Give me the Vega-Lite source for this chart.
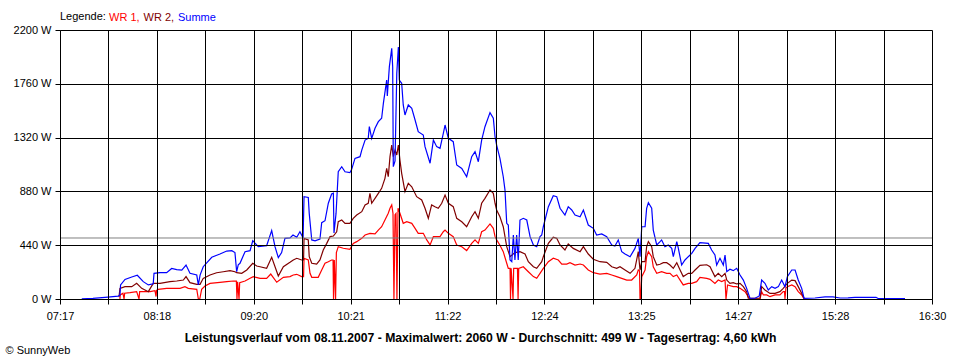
{
"$schema": "https://vega.github.io/schema/vega-lite/v6.json",
"width": 872, "height": 269,
"autosize": {"type": "none"},
"padding": {"left": 60, "top": 30, "right": 28, "bottom": 61},
"background": "white",
"config": {"font": "Liberation Sans", "view": {"stroke": null}},
"datasets": {
"wr1": [
{"t":475.2,"w":0},{"t":475.4,"w":33},{"t":477.1,"w":47},{"t":477.8,"w":0},{"t":478.2,"w":47},{"t":481.6,"w":52},{"t":485.8,"w":60},{"t":487.3,"w":0},{"t":487.7,"w":60},{"t":489.0,"w":60},{"t":494.3,"w":60},{"t":497.4,"w":68},{"t":498.1,"w":20},{"t":498.4,"w":70},{"t":499.5,"w":79},{"t":504.8,"w":87},{"t":513.3,"w":87},{"t":516.4,"w":101},{"t":518.5,"w":87},{"t":523.9,"w":79},{"t":524.9,"w":0},{"t":525.8,"w":0},{"t":527.0,"w":79},{"t":529.1,"w":106},{"t":532.3,"w":128},{"t":538.6,"w":136},{"t":542.9,"w":142},{"t":547.1,"w":147},{"t":549.0,"w":147},{"t":549.4,"w":0},{"t":549.8,"w":140},{"t":550.7,"w":0},{"t":551.1,"w":134},{"t":554.5,"w":147},{"t":557.7,"w":169},{"t":559.7,"w":183},{"t":564.0,"w":169},{"t":568.2,"w":169},{"t":570.8,"w":204},{"t":574.6,"w":137},{"t":578.8,"w":177},{"t":583.0,"w":183},{"t":585.1,"w":196},{"t":587.3,"w":202},{"t":590.4,"w":183},{"t":591.6,"w":183},{"t":591.9,"w":333},{"t":594.6,"w":319},{"t":595.7,"w":210},{"t":596.8,"w":177},{"t":600.9,"w":177},{"t":603.1,"w":237},{"t":605.2,"w":292},{"t":607.3,"w":305},{"t":609.4,"w":319},{"t":610.3,"w":319},{"t":610.6,"w":0},{"t":611.1,"w":319},{"t":611.9,"w":0},{"t":612.4,"w":380},{"t":613.6,"w":428},{"t":616.8,"w":415},{"t":621.0,"w":406},{"t":623.1,"w":455},{"t":625.3,"w":469},{"t":628.5,"w":496},{"t":630.6,"w":523},{"t":633.7,"w":537},{"t":636.9,"w":532},{"t":639.0,"w":564},{"t":641.1,"w":591},{"t":643.2,"w":646},{"t":645.3,"w":701},{"t":646.4,"w":742},{"t":647.5,"w":769},{"t":648.3,"w":700},{"t":648.9,"w":0},{"t":649.6,"w":690},{"t":650.2,"w":700},{"t":650.8,"w":0},{"t":651.5,"w":742},{"t":652.7,"w":701},{"t":654.8,"w":619},{"t":657.0,"w":632},{"t":660.2,"w":619},{"t":662.3,"w":578},{"t":664.3,"w":537},{"t":667.5,"w":537},{"t":669.7,"w":483},{"t":671.8,"w":442},{"t":673.9,"w":510},{"t":678.1,"w":510},{"t":680.2,"w":550},{"t":681.3,"w":564},{"t":683.4,"w":537},{"t":686.5,"w":510},{"t":688.7,"w":442},{"t":691.9,"w":428},{"t":695.0,"w":396},{"t":698.2,"w":455},{"t":700.3,"w":483},{"t":702.4,"w":455},{"t":704.5,"w":550},{"t":706.6,"w":564},{"t":709.8,"w":614},{"t":711.9,"w":578},{"t":713.0,"w":510},{"t":714.0,"w":483},{"t":716.1,"w":440},{"t":718.2,"w":387},{"t":720.4,"w":292},{"t":721.4,"w":251},{"t":722.5,"w":251},{"t":722.8,"w":0},{"t":723.2,"w":251},{"t":724.4,"w":0},{"t":724.8,"w":251},{"t":727.2,"w":251},{"t":727.6,"w":0},{"t":728.0,"w":251},{"t":730.9,"w":264},{"t":734.1,"w":223},{"t":737.3,"w":183},{"t":739.4,"w":169},{"t":741.5,"w":210},{"t":743.6,"w":251},{"t":746.8,"w":305},{"t":749.9,"w":333},{"t":753.1,"w":319},{"t":755.3,"w":286},{"t":758.4,"w":286},{"t":760.5,"w":297},{"t":763.7,"w":278},{"t":766.9,"w":286},{"t":769.0,"w":278},{"t":772.1,"w":237},{"t":775.3,"w":215},{"t":779.5,"w":204},{"t":783.8,"w":210},{"t":787.0,"w":196},{"t":790.1,"w":183},{"t":793.3,"w":169},{"t":796.5,"w":155},{"t":799.6,"w":155},{"t":802.8,"w":196},{"t":803.8,"w":237},{"t":804.6,"w":230},{"t":804.9,"w":0},{"t":805.3,"w":0},{"t":806.0,"w":183},{"t":808.1,"w":237},{"t":809.1,"w":346},{"t":810.2,"w":387},{"t":812.3,"w":346},{"t":813.3,"w":264},{"t":815.5,"w":210},{"t":818.6,"w":223},{"t":821.8,"w":210},{"t":823.9,"w":210},{"t":826.0,"w":183},{"t":828.2,"w":196},{"t":830.3,"w":155},{"t":832.3,"w":115},{"t":835.5,"w":128},{"t":837.7,"w":128},{"t":840.8,"w":142},{"t":842.9,"w":177},{"t":847.2,"w":169},{"t":849.3,"w":161},{"t":852.4,"w":128},{"t":854.5,"w":155},{"t":856.7,"w":142},{"t":858.8,"w":155},{"t":859.4,"w":0},{"t":860.4,"w":115},{"t":864.0,"w":101},{"t":866.2,"w":101},{"t":868.3,"w":87},{"t":871.5,"w":60},{"t":873.5,"w":19},{"t":874.6,"w":0},{"t":881.0,"w":0},{"t":882.0,"w":60},{"t":883.1,"w":33},{"t":885.2,"w":33},{"t":887.3,"w":19},{"t":890.5,"w":33},{"t":893.6,"w":33},{"t":895.7,"w":60},{"t":896.5,"w":60},{"t":896.8,"w":0},{"t":897.4,"w":90},{"t":898.3,"w":101},{"t":901.1,"w":115},{"t":903.2,"w":101},{"t":905.2,"w":60},{"t":907.4,"w":33},{"t":908.9,"w":0}
],
"wr2": [
{"t":474.6,"w":15},{"t":475.2,"w":87},{"t":478.4,"w":101},{"t":482.7,"w":101},{"t":485.8,"w":128},{"t":489.0,"w":87},{"t":493.2,"w":60},{"t":496.3,"w":128},{"t":500.6,"w":128},{"t":506.9,"w":142},{"t":511.2,"w":147},{"t":515.4,"w":155},{"t":517.1,"w":183},{"t":519.6,"w":134},{"t":523.9,"w":120},{"t":526.0,"w":120},{"t":528.0,"w":169},{"t":532.3,"w":196},{"t":536.5,"w":215},{"t":540.7,"w":223},{"t":545.0,"w":232},{"t":548.1,"w":223},{"t":549.2,"w":215},{"t":552.4,"w":210},{"t":555.6,"w":237},{"t":559.4,"w":292},{"t":561.9,"w":270},{"t":564.0,"w":264},{"t":568.2,"w":251},{"t":571.4,"w":341},{"t":575.6,"w":188},{"t":578.8,"w":264},{"t":583.0,"w":300},{"t":585.1,"w":319},{"t":587.3,"w":333},{"t":590.4,"w":319},{"t":591.6,"w":319},{"t":591.9,"w":496},{"t":594.6,"w":483},{"t":595.2,"w":346},{"t":596.8,"w":292},{"t":599.9,"w":286},{"t":602.0,"w":319},{"t":604.1,"w":401},{"t":606.3,"w":455},{"t":608.4,"w":510},{"t":610.5,"w":515},{"t":612.6,"w":550},{"t":613.6,"w":632},{"t":615.8,"w":646},{"t":617.9,"w":619},{"t":621.0,"w":619},{"t":623.1,"w":660},{"t":625.3,"w":687},{"t":628.5,"w":714},{"t":630.6,"w":769},{"t":632.6,"w":783},{"t":633.7,"w":864},{"t":634.8,"w":783},{"t":636.9,"w":823},{"t":639.0,"w":864},{"t":641.1,"w":905},{"t":643.2,"w":987},{"t":644.3,"w":1069},{"t":645.3,"w":1000},{"t":646.4,"w":1164},{"t":647.5,"w":1259},{"t":648.5,"w":1164},{"t":649.6,"w":1218},{"t":650.7,"w":1178},{"t":651.7,"w":1259},{"t":652.7,"w":1137},{"t":653.8,"w":1028},{"t":655.9,"w":878},{"t":658.0,"w":946},{"t":660.2,"w":918},{"t":663.3,"w":837},{"t":666.5,"w":810},{"t":668.6,"w":742},{"t":670.7,"w":660},{"t":672.8,"w":769},{"t":674.9,"w":755},{"t":677.0,"w":742},{"t":679.2,"w":783},{"t":681.3,"w":850},{"t":683.4,"w":783},{"t":686.5,"w":755},{"t":688.7,"w":660},{"t":691.9,"w":632},{"t":695.0,"w":591},{"t":698.2,"w":673},{"t":700.3,"w":714},{"t":702.4,"w":660},{"t":704.5,"w":783},{"t":706.6,"w":823},{"t":709.8,"w":891},{"t":711.9,"w":864},{"t":713.0,"w":783},{"t":714.0,"w":728},{"t":716.1,"w":673},{"t":718.2,"w":591},{"t":720.4,"w":428},{"t":722.5,"w":346},{"t":725.6,"w":379},{"t":728.8,"w":387},{"t":732.0,"w":368},{"t":734.1,"w":305},{"t":737.3,"w":264},{"t":739.4,"w":251},{"t":742.6,"w":305},{"t":743.6,"w":346},{"t":746.8,"w":455},{"t":749.9,"w":505},{"t":752.1,"w":496},{"t":754.2,"w":442},{"t":757.3,"w":401},{"t":759.4,"w":450},{"t":762.6,"w":414},{"t":766.9,"w":387},{"t":769.0,"w":428},{"t":772.1,"w":368},{"t":775.3,"w":325},{"t":779.5,"w":305},{"t":783.8,"w":300},{"t":787.0,"w":264},{"t":790.1,"w":251},{"t":792.2,"w":264},{"t":795.4,"w":237},{"t":798.6,"w":210},{"t":801.7,"w":251},{"t":803.8,"w":387},{"t":804.9,"w":237},{"t":806.0,"w":305},{"t":808.1,"w":305},{"t":809.1,"w":428},{"t":810.2,"w":469},{"t":812.3,"w":428},{"t":813.3,"w":346},{"t":815.5,"w":278},{"t":817.6,"w":284},{"t":819.7,"w":297},{"t":821.8,"w":297},{"t":823.9,"w":278},{"t":826.0,"w":251},{"t":828.2,"w":297},{"t":830.3,"w":237},{"t":832.3,"w":183},{"t":835.5,"w":210},{"t":837.7,"w":210},{"t":839.8,"w":237},{"t":842.9,"w":275},{"t":847.2,"w":280},{"t":849.3,"w":264},{"t":850.3,"w":237},{"t":852.4,"w":183},{"t":854.5,"w":210},{"t":856.7,"w":183},{"t":858.8,"w":210},{"t":859.9,"w":155},{"t":861.9,"w":128},{"t":864.0,"w":134},{"t":866.2,"w":123},{"t":868.3,"w":128},{"t":870.4,"w":101},{"t":872.5,"w":60},{"t":873.5,"w":6},{"t":881.0,"w":6},{"t":882.0,"w":101},{"t":884.1,"w":74},{"t":887.3,"w":46},{"t":890.5,"w":46},{"t":893.6,"w":60},{"t":895.7,"w":87},{"t":898.3,"w":128},{"t":901.1,"w":155},{"t":903.2,"w":150},{"t":905.2,"w":101},{"t":907.4,"w":46},{"t":908.9,"w":6}
],
"sum": [
{"t":451.0,"w":2},{"t":458.1,"w":5},{"t":467.6,"w":16},{"t":474.0,"w":24},{"t":475.2,"w":30},{"t":475.6,"w":115},{"t":478.4,"w":160},{"t":482.7,"w":180},{"t":486.2,"w":194},{"t":490.0,"w":142},{"t":493.2,"w":115},{"t":496.3,"w":125},{"t":496.8,"w":210},{"t":500.6,"w":216},{"t":504.8,"w":216},{"t":508.0,"w":250},{"t":511.2,"w":240},{"t":514.4,"w":236},{"t":517.1,"w":278},{"t":519.6,"w":210},{"t":523.9,"w":196},{"t":524.9,"w":115},{"t":526.0,"w":196},{"t":528.0,"w":264},{"t":533.4,"w":341},{"t":538.6,"w":368},{"t":542.9,"w":392},{"t":546.1,"w":395},{"t":548.1,"w":380},{"t":549.2,"w":223},{"t":550.2,"w":280},{"t":551.3,"w":292},{"t":554.5,"w":387},{"t":557.7,"w":395},{"t":559.4,"w":477},{"t":562.9,"w":428},{"t":568.2,"w":436},{"t":571.4,"w":559},{"t":573.5,"w":428},{"t":575.6,"w":338},{"t":577.7,"w":380},{"t":579.8,"w":496},{"t":583.0,"w":500},{"t":584.9,"w":523},{"t":587.3,"w":505},{"t":589.3,"w":550},{"t":591.3,"w":500},{"t":591.9,"w":837},{"t":594.6,"w":830},{"t":595.2,"w":700},{"t":596.8,"w":483},{"t":598.9,"w":475},{"t":602.0,"w":490},{"t":603.1,"w":624},{"t":605.2,"w":640},{"t":607.3,"w":783},{"t":609.4,"w":859},{"t":610.5,"w":865},{"t":610.9,"w":540},{"t":612.2,"w":700},{"t":613.6,"w":1041},{"t":615.8,"w":1082},{"t":617.9,"w":1041},{"t":621.0,"w":1033},{"t":622.1,"w":1060},{"t":624.2,"w":1150},{"t":627.4,"w":1164},{"t":628.5,"w":1218},{"t":630.6,"w":1300},{"t":632.6,"w":1314},{"t":633.3,"w":1410},{"t":634.8,"w":1314},{"t":636.9,"w":1396},{"t":639.0,"w":1450},{"t":641.1,"w":1478},{"t":642.2,"w":1600},{"t":644.3,"w":1791},{"t":644.7,"w":1660},{"t":646.0,"w":1900},{"t":647.5,"w":2050},{"t":648.1,"w":1900},{"t":648.5,"w":1082},{"t":649.6,"w":1130},{"t":650.7,"w":1846},{"t":651.7,"w":2060},{"t":652.3,"w":1791},{"t":653.8,"w":1764},{"t":654.8,"w":1587},{"t":655.9,"w":1505},{"t":658.0,"w":1587},{"t":660.2,"w":1560},{"t":662.3,"w":1464},{"t":664.3,"w":1368},{"t":667.5,"w":1341},{"t":668.6,"w":1246},{"t":671.8,"w":1110},{"t":673.9,"w":1300},{"t":676.0,"w":1246},{"t":678.1,"w":1232},{"t":680.2,"w":1355},{"t":681.3,"w":1423},{"t":683.4,"w":1314},{"t":686.5,"w":1287},{"t":688.7,"w":1096},{"t":691.9,"w":1068},{"t":695.0,"w":1000},{"t":698.2,"w":1164},{"t":700.3,"w":1205},{"t":702.4,"w":1123},{"t":704.5,"w":1300},{"t":706.6,"w":1409},{"t":709.8,"w":1524},{"t":711.9,"w":1478},{"t":713.0,"w":1327},{"t":714.0,"w":1259},{"t":716.1,"w":1150},{"t":718.2,"w":1000},{"t":719.3,"w":891},{"t":720.4,"w":619},{"t":721.4,"w":605},{"t":722.5,"w":319},{"t":723.6,"w":305},{"t":724.6,"w":523},{"t":725.6,"w":319},{"t":726.7,"w":523},{"t":727.7,"w":319},{"t":728.8,"w":646},{"t":730.9,"w":660},{"t":733.1,"w":646},{"t":735.2,"w":510},{"t":737.3,"w":442},{"t":739.4,"w":428},{"t":741.5,"w":510},{"t":742.6,"w":523},{"t":743.6,"w":591},{"t":746.8,"w":755},{"t":749.9,"w":845},{"t":752.1,"w":837},{"t":754.2,"w":742},{"t":757.3,"w":687},{"t":759.4,"w":755},{"t":761.6,"w":728},{"t":763.7,"w":687},{"t":766.9,"w":673},{"t":769.0,"w":728},{"t":772.1,"w":605},{"t":775.3,"w":578},{"t":777.4,"w":523},{"t":780.6,"w":532},{"t":783.8,"w":510},{"t":787.0,"w":442},{"t":789.0,"w":433},{"t":791.1,"w":483},{"t":793.3,"w":387},{"t":795.4,"w":368},{"t":798.6,"w":346},{"t":801.7,"w":414},{"t":803.8,"w":496},{"t":804.9,"w":346},{"t":806.0,"w":591},{"t":808.1,"w":591},{"t":809.1,"w":742},{"t":810.2,"w":788},{"t":812.3,"w":742},{"t":813.3,"w":564},{"t":815.5,"w":442},{"t":817.6,"w":469},{"t":818.6,"w":483},{"t":820.7,"w":428},{"t":822.8,"w":442},{"t":825.0,"w":414},{"t":826.0,"w":346},{"t":828.2,"w":469},{"t":829.2,"w":414},{"t":831.3,"w":278},{"t":833.4,"w":319},{"t":835.5,"w":346},{"t":837.7,"w":373},{"t":839.8,"w":414},{"t":842.9,"w":461},{"t":848.2,"w":455},{"t":850.3,"w":401},{"t":852.4,"w":360},{"t":853.5,"w":278},{"t":855.6,"w":333},{"t":857.7,"w":278},{"t":858.8,"w":360},{"t":859.9,"w":223},{"t":861.9,"w":243},{"t":864.0,"w":232},{"t":866.2,"w":251},{"t":868.3,"w":196},{"t":870.4,"w":155},{"t":872.5,"w":87},{"t":874.6,"w":6},{"t":877.8,"w":6},{"t":880.5,"w":25},{"t":882.0,"w":155},{"t":884.1,"w":128},{"t":886.2,"w":74},{"t":888.4,"w":101},{"t":890.5,"w":87},{"t":892.6,"w":101},{"t":894.7,"w":155},{"t":896.8,"w":101},{"t":898.3,"w":183},{"t":901.1,"w":237},{"t":903.2,"w":237},{"t":905.2,"w":155},{"t":907.4,"w":87},{"t":908.9,"w":6},{"t":915.8,"w":8},{"t":922.2,"w":18},{"t":927.2,"w":18},{"t":931.7,"w":8},{"t":936.8,"w":10},{"t":941.2,"w":14},{"t":950.7,"w":14},{"t":954.5,"w":14},{"t":955.8,"w":4},{"t":966.5,"w":3},{"t":972.9,"w":3}
],
"avg": [{"w": 499}]
},
"encoding": {
  "x": {"field": "t", "type": "quantitative",
    "scale": {"domain": [437.2, 990], "nice": false, "zero": false},
    "axis": {
      "values": [437.2, 467.91, 498.62, 529.33, 560.04, 590.76, 621.47, 652.18, 682.89, 713.6, 744.31, 775.02, 805.73, 836.44, 867.16, 897.87, 928.58, 959.29, 990],
      "labelExpr": "round((datum.value - 437.2) / 30.7111) % 2 == 1 ? '' : ((floor(datum.value / 60) < 10 ? '0' : '') + floor(datum.value / 60) + ':' + (floor(datum.value) % 60 < 10 ? '0' : '') + (floor(datum.value) % 60))",
      "grid": true, "gridColor": "black", "gridOpacity": 1, "gridWidth": 1,
      "domainColor": "black", "tickColor": "black", "tickSize": 5, "tickWidth": 1,
      "labelFont": "Liberation Sans", "labelFontSize": 11, "labelColor": "black", "labelPadding": 6,
      "labelFlush": false, "labelOverlap": false, "zindex": 1,
      "title": "Leistungsverlauf vom 08.11.2007 - Maximalwert: 2060 W - Durchschnitt: 499 W - Tagesertrag: 4,60 kWh",
      "titleFont": "Liberation Sans", "titleFontWeight": "bold", "titleFontSize": 12.2, "titleColor": "black",
      "titleX": 420, "titleY": 42, "titleAlign": "center", "titleBaseline": "alphabetic", "titleAnchor": null
    }
  },
  "y": {"field": "w", "type": "quantitative",
    "scale": {"domain": [0, 2200], "nice": false},
    "axis": {
      "values": [0, 440, 880, 1320, 1760, 2200],
      "labelExpr": "datum.value + ' W'",
      "grid": true, "gridColor": "black", "gridOpacity": 1, "gridWidth": 1,
      "domainColor": "black", "tickColor": "black", "tickSize": 5, "tickWidth": 1,
      "labelFont": "Liberation Sans", "labelFontSize": 11, "labelColor": "black", "labelPadding": 4, "labelFlush": false, "zindex": 1,
      "title": "© SunnyWeb", "titleAngle": 0, "titleX": -55, "titleY": 323, "titleAlign": "left", "titleBaseline": "alphabetic",
      "titleFont": "Liberation Sans", "titleFontWeight": "normal", "titleFontSize": 11, "titleColor": "black", "titleAnchor": null
    }
  }
},
"layer": [
  {"data": {"name": "wr1"}, "mark": {"type": "line", "strokeWidth": 1.2},
   "encoding": {"color": {"datum": "WR 1", "type": "nominal",
     "scale": {"domain": ["WR 1", "WR 2", "Summe"], "range": ["#ff0000", "#800000", "#0000ff"]},
     "legend": {"orient": "none", "legendX": 0, "legendY": -18, "direction": "horizontal",
       "title": "Legende:", "titleOrient": "left", "titleFont": "Liberation Sans", "titleFontSize": 11, "titleFontWeight": "normal", "titleColor": "black", "titlePadding": 4,
       "labelFont": "Liberation Sans", "labelFontSize": 11, "labelOffset": -12, "columnPadding": 3.5, "padding": 0,
       "symbolSize": 0, "symbolStrokeWidth": 0, "symbolOpacity": 0,
       "labelExpr": "datum.label == 'Summe' ? datum.label : datum.label + ','",
       "encode": {"labels": {"update": {"fill": {"scale": "color", "field": "value"}}}}}}}},
  {"data": {"name": "wr2"}, "mark": {"type": "line", "strokeWidth": 1.2},
   "encoding": {"color": {"datum": "WR 2", "type": "nominal"}}},
  {"data": {"name": "sum"}, "mark": {"type": "line", "strokeWidth": 1.2},
   "encoding": {"color": {"datum": "Summe", "type": "nominal"}}},
  {"data": {"name": "avg"}, "mark": {"type": "rule", "color": "#808080", "strokeWidth": 1},
   "encoding": {"y": {"field": "w", "type": "quantitative"}, "x": null}}
]
}
